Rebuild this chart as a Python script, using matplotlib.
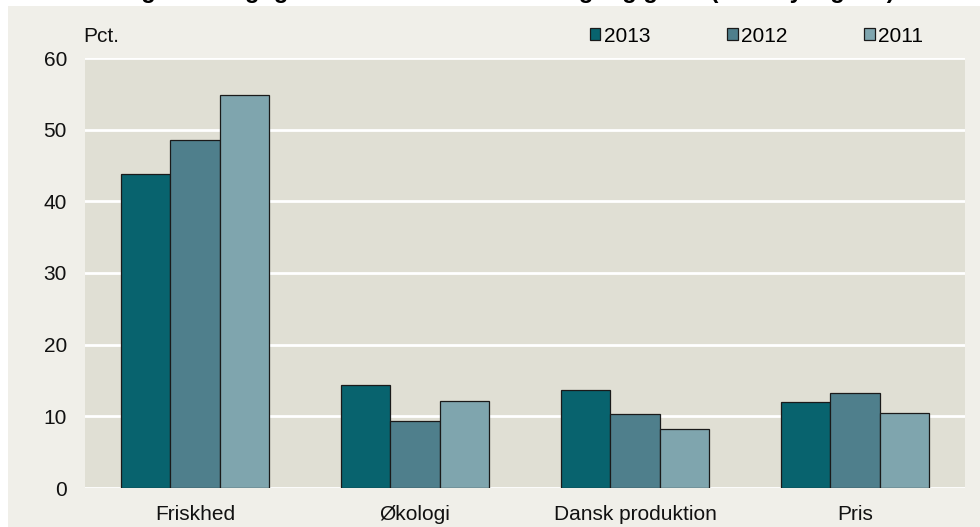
import matplotlib.pyplot as plt
import numpy as np
from matplotlib.patches import Rectangle

categories = ["Friskhed", "Økologi", "Dansk produktion", "Pris"]
years = ["2013", "2012", "2011"]
v2013 = [43.8, 14.4, 13.7, 12.0]
v2012 = [48.6, 9.4, 10.3, 13.3]
v2011 = [54.8, 12.1, 8.3, 10.4]
colors = ["#08636e", "#4f7f8c", "#7fa5ae"]

plt.rcParams['font.family'] = ['Liberation Sans', 'DejaVu Sans']
fs = 15

fig = plt.figure(figsize=(9.8, 5.27), dpi=100, facecolor='white')
fig.patches.append(Rectangle((8 / 980, 0), 1, 1 - 6 / 527, transform=fig.transFigure,
                             facecolor='#f0efe9', edgecolor='none', zorder=-10))
ax = fig.add_axes([85 / 980, (527 - 488) / 527, 880 / 980, 430 / 527])
ax.set_facecolor('#e0dfd4')

x = np.arange(len(categories))
w = 0.223
for i, (vals, lab) in enumerate(zip([v2013, v2012, v2011], years)):
    ax.bar(x + (i - 1) * w, vals, w, color=colors[i], edgecolor='#1a1a1a',
           linewidth=0.9, label=lab, zorder=3)

ax.set_xlim(-0.5, 3.5)
ax.set_ylim(0, 60)
ax.set_yticks(range(0, 61, 10))
ax.set_xticks(x)
ax.set_xticklabels(categories)
ax.grid(axis='y', color='white', linewidth=2, zorder=1)
ax.set_axisbelow(True)
for s in ax.spines.values():
    s.set_visible(False)
ax.tick_params(axis='both', length=0, labelsize=fs, colors='#111111')
ax.tick_params(axis='y', pad=13)
ax.tick_params(axis='x', pad=12)

fig.text(83 / 980, 1 - 37 / 527, "Pct.", fontsize=fs, va='center', ha='left', color='#111111')

# title sits mostly above the canvas, as in the source image
fig.text(480 / 980, 1 + 2 / 527,
         "Forbrugernes vigtigste faktorer ved køb af frugt og grønt (Sandsynlighed)",
         fontsize=17, fontweight='bold', va='baseline', ha='center')

leg = ax.legend(ncol=3, loc='center left', bbox_to_anchor=(590 / 980, 1 - 36 / 527),
                bbox_transform=fig.transFigure, frameon=False, fontsize=fs,
                handlelength=0.5, handleheight=0.5, handletextpad=0.15,
                columnspacing=3.7, borderaxespad=0, borderpad=0)

fig.savefig("out.png", dpi=100, facecolor=fig.get_facecolor())
